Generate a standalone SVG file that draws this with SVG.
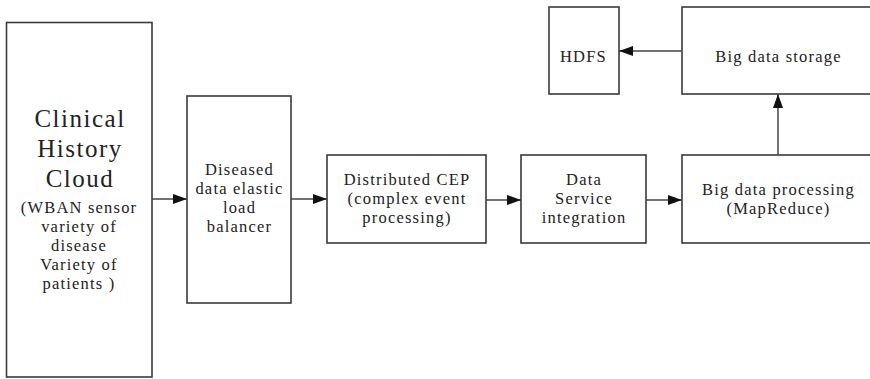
<svg xmlns="http://www.w3.org/2000/svg" width="870" height="379" viewBox="0 0 870 379">
  <style>
    .box { fill: #ffffff; stroke: #3a3a3a; stroke-width: 1.6; }
    .lbl { font-family: "Liberation Serif", "Times New Roman", serif; font-size: 16.5px; letter-spacing: 1.2px; fill: #222222; text-anchor: middle; }
    .title { font-size: 25px; letter-spacing: 1.5px; }
    .wire { stroke: #444444; stroke-width: 1.5; fill: none; marker-end: url(#head); }
  </style>
  <defs>
    <marker id="head" viewBox="0 0 14 10" refX="14" refY="5" markerWidth="14" markerHeight="10" markerUnits="userSpaceOnUse" orient="auto">
      <path d="M0,0 L14,5 L0,10 Z" fill="#111111"/>
    </marker>
  </defs>
  <rect width="870" height="379" fill="#ffffff"/>

  <g id="clinical-history-cloud">
    <rect class="box" x="6.5" y="22.5" width="145.5" height="354.5"/>
    <text class="lbl title" x="80" y="127">Clinical</text>
    <text class="lbl title" x="80" y="157">History</text>
    <text class="lbl title" x="80" y="187">Cloud</text>
    <text class="lbl" x="79" y="213">(WBAN sensor</text>
    <text class="lbl" x="79" y="232">variety of</text>
    <text class="lbl" x="79" y="251">disease</text>
    <text class="lbl" x="79" y="270">Variety of</text>
    <text class="lbl" x="79" y="289">patients )</text>
  </g>

  <g id="load-balancer">
    <rect class="box" x="187" y="96" width="104" height="207"/>
    <text class="lbl" x="239.5" y="175">Diseased</text>
    <text class="lbl" x="239.5" y="194">data elastic</text>
    <text class="lbl" x="239.5" y="213">load</text>
    <text class="lbl" x="239.5" y="232">balancer</text>
  </g>

  <g id="distributed-cep">
    <rect class="box" x="327" y="155" width="159" height="88"/>
    <text class="lbl" x="407" y="185">Distributed CEP</text>
    <text class="lbl" x="407" y="204">(complex event</text>
    <text class="lbl" x="407" y="223">processing)</text>
  </g>

  <g id="data-service-integration">
    <rect class="box" x="521" y="155" width="125" height="88"/>
    <text class="lbl" x="584" y="185">Data</text>
    <text class="lbl" x="584" y="204">Service</text>
    <text class="lbl" x="584" y="223">integration</text>
  </g>

  <g id="big-data-processing">
    <rect class="box" x="682" y="155" width="194" height="88"/>
    <text class="lbl" x="778.5" y="195">Big data processing</text>
    <text class="lbl" x="778.5" y="214">(MapReduce)</text>
  </g>

  <g id="big-data-storage">
    <rect class="box" x="682" y="7" width="194" height="87"/>
    <text class="lbl" x="778.5" y="62">Big data storage</text>
  </g>

  <g id="hdfs">
    <rect class="box" x="549" y="7" width="70" height="87"/>
    <text class="lbl" x="583.5" y="62">HDFS</text>
  </g>

  <g id="connectors">
    <line class="wire" x1="152" y1="199" x2="187" y2="199"/>
    <line class="wire" x1="291" y1="199" x2="327" y2="199"/>
    <line class="wire" x1="486" y1="200" x2="521" y2="200"/>
    <line class="wire" x1="646" y1="200" x2="682" y2="200"/>
    <line class="wire" x1="778" y1="155" x2="778" y2="94"/>
    <line class="wire" x1="682" y1="51" x2="619" y2="51"/>
  </g>
</svg>
